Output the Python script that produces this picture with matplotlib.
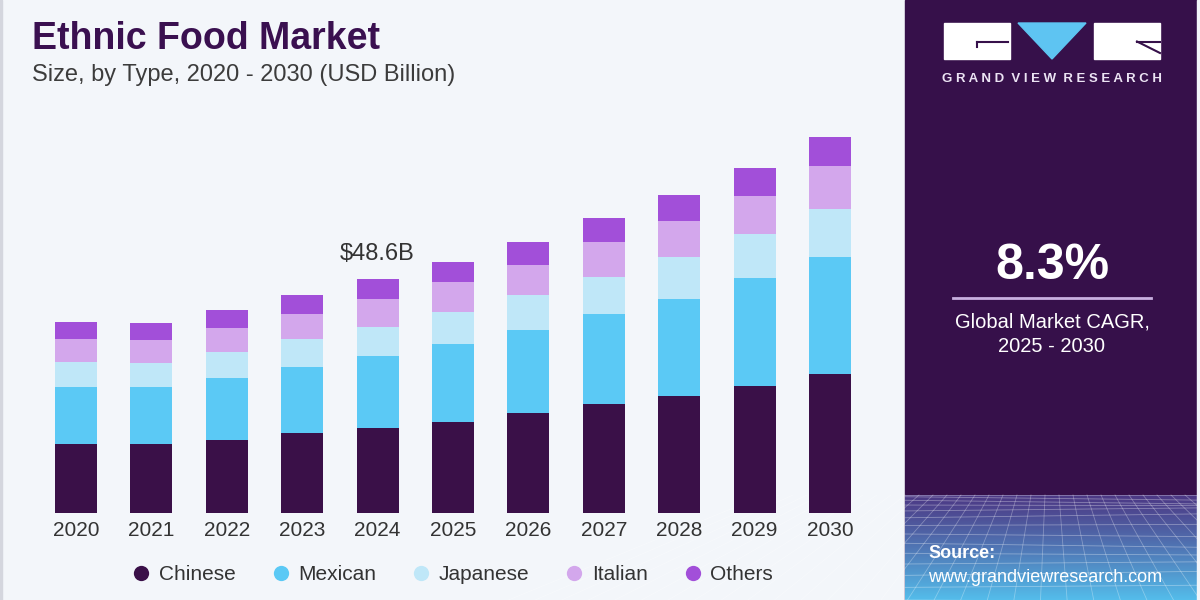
import matplotlib.pyplot as plt
import numpy as np
from matplotlib.patches import Rectangle, Polygon
from matplotlib.lines import Line2D

plt.rcParams['font.family'] = ['Liberation Sans', 'DejaVu Sans']

# 数据（USD Billion）
years = ['2020', '2021', '2022', '2023', '2024', '2025', '2026', '2027', '2028', '2029', '2030']
chinese = [14.3, 14.3, 15.2, 16.6, 17.7, 19.0, 20.7, 22.6, 24.4, 26.4, 28.9]
mexican = [11.9, 11.9, 12.9, 13.8, 14.9, 16.1, 17.4, 18.7, 20.1, 22.4, 24.2]
japanese = [5.1, 4.9, 5.3, 5.7, 6.1, 6.7, 7.1, 7.8, 8.7, 9.1, 10.1]
italian = [4.8, 4.8, 5.1, 5.3, 5.7, 6.1, 6.4, 7.1, 7.5, 8.0, 8.8]
others = [3.6, 3.6, 3.7, 3.9, 4.2, 4.3, 4.7, 5.0, 5.3, 5.7, 6.1]
segment_names = ['Chinese', 'Mexican', 'Japanese', 'Italian', 'Others']
segment_colors = ['#3a1048', '#5bc9f5', '#bfe7f8', '#d3a7ec', '#a24fd9']
label_year = '2024'
label_text = '$48.6B'
cagr_text = '8.3%'
cagr_caption = 'Global Market CAGR,\n2025 - 2030'

bg = '#f3f6fa'
panel = '#36104a'

fig = plt.figure(figsize=(12, 6), dpi=100, facecolor=bg)

# 背景层：像素坐标
over = fig.add_axes([0, 0, 1, 1], zorder=0)
over.set_xlim(0, 1200)
over.set_ylim(600, 0)
over.axis('off')

over.add_patch(Rectangle((0, 0), 2, 600, color='#d4d6de'))
over.add_patch(Rectangle((905, 0), 292, 600, color=panel))

# 右下角渐变
grad = np.linspace(0, 1, 200)[:, None]
c0 = np.array([0.30, 0.22, 0.52])
c1 = np.array([0.33, 0.74, 0.92])
img = c0 + (c1 - c0) * grad[..., None] ** 1.1
img = np.repeat(img, 2, axis=1)
over.imshow(img, extent=(905, 1197, 600, 495), aspect='auto', zorder=1)
# 网格线（装饰）
for k in range(14):
    yy = 495 + 105 * (k / 13) ** 1.6
    over.plot([905, 1197], [yy, yy + 4 * np.sin(k)], color='white', lw=0.6, alpha=0.35, zorder=2)
for k in range(-10, 26):
    x_top = 905 + k * 14
    x_bot = 1050 + (x_top - 1050) * 1.9
    over.plot([x_top, x_bot], [495, 600], color='white', lw=0.6, alpha=0.3, zorder=2)
over.add_patch(Rectangle((1197, 0), 3, 600, color=bg, zorder=3))

# Logo
over.add_patch(Rectangle((944, 23), 66, 36, color='white', zorder=3))
over.plot([977, 1008], [42, 42], color=panel, lw=1.5, zorder=4)
over.plot([977, 977], [42, 47], color=panel, lw=1.5, zorder=4)
over.add_patch(Polygon([[1018, 23], [1086, 23], [1052, 59]], color='#5ec4f2', zorder=3))
over.add_patch(Rectangle((1094, 23), 66, 36, color='white', zorder=3))
over.plot([1137, 1160], [41.5, 41.5], color=panel, lw=1.5, zorder=4)
over.plot([1137, 1160], [41.5, 53], color=panel, lw=1.5, zorder=4)
over.text(1052, 79, 'G R A N D  V I E W  R E S E A R C H', color='#ece4f4',
          fontsize=9.5, fontweight='bold', ha='center', va='center', zorder=4)

# CAGR
over.text(1052, 266, cagr_text, color='white', fontsize=36, fontweight='bold',
          ha='center', va='center', zorder=4)
over.plot([953, 1151], [298, 298], color='#c8b0e0', lw=2, zorder=4)
over.text(1052, 334, cagr_caption, color='white', fontsize=14.5, ha='center', va='center',
          linespacing=1.35, zorder=4)

# Source
over.text(928, 553, 'Source:', color='white', fontsize=13, fontweight='bold', va='center', zorder=4)
over.text(928, 577, 'www.grandviewresearch.com', color='white', fontsize=13, va='center', zorder=4)

# 标题
over.text(32, 39, 'Ethnic Food Market', color='#3a1050', fontsize=27, fontweight='bold',
          va='center', ha='left')
over.text(32, 75, 'Size, by Type, 2020 - 2030 (USD Billion)', color='#3c3c3c', fontsize=17,
          va='center', ha='left')

# 柱状图
ax = fig.add_axes([30 / 1200, 87 / 600, 850 / 1200, 393 / 600], zorder=1)
ax.patch.set_alpha(0)
x = np.arange(len(years))
series = [chinese, mexican, japanese, italian, others]
bottom = np.zeros(len(years))
for vals, col in zip(series, segment_colors):
    ax.bar(x, vals, bottom=bottom, width=0.557, color=col, edgecolor='none')
    bottom += np.array(vals)

ax.set_xlim((30 - 76) / 75.4, (880 - 76) / 75.4)
ax.set_ylim(0, 393 / 4.815)
ax.set_xticks(x)
ax.set_xticklabels(years, fontsize=15, color='#333333')
ax.tick_params(axis='x', length=0, pad=6)
ax.set_yticks([])
for s in ax.spines.values():
    s.set_visible(False)

i = years.index(label_year)
ax.annotate(label_text, (x[i], bottom[i]), xytext=(0, 14), textcoords='offset points',
            ha='center', va='baseline', fontsize=17, color='#333333')

# 图例
handles = [Line2D([], [], marker='o', linestyle='none', markersize=11, markerfacecolor=c,
                  markeredgecolor='none') for c in segment_colors]
fig.legend(handles, segment_names, loc='center', bbox_to_anchor=(452 / 1200, 1 - 575 / 600),
           ncol=5, frameon=False, fontsize=15, handlelength=1.0, handletextpad=0.35,
           columnspacing=1.65, labelcolor='#333333')

fig.savefig('out.png', dpi=100, facecolor=bg)
